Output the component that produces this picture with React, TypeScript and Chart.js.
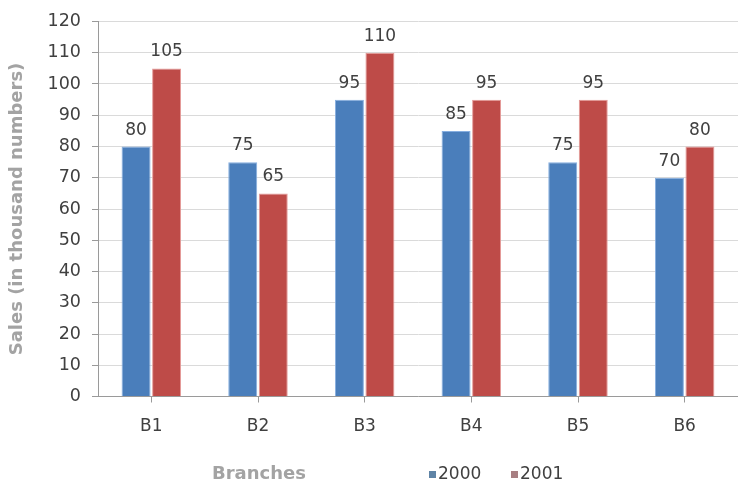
import React, { useEffect, useRef } from "react";
import { Chart, registerables } from "chart.js";

Chart.register(...registerables);

const categories = ["B1", "B2", "B3", "B4", "B5", "B6"];
const sales2000 = [80, 75, 95, 85, 75, 70];
const sales2001 = [105, 65, 110, 95, 95, 80];
const seriesLabels = ["2000", "2001"];
const yTitle = "Sales (in thousand numbers)";
const xTitle = "Branches";

const FONT = "'DejaVu Sans', Verdana, sans-serif";
const legendBoxColors = ["#5f84a6", "#a87f82"];

const valueLabels = {
  id: "valueLabels",
  afterDatasetsDraw(chart: any) {
    const ctx = chart.ctx;
    ctx.save();
    ctx.font = `17px ${FONT}`;
    ctx.fillStyle = "#404040";
    ctx.textAlign = "center";
    ctx.textBaseline = "alphabetic";
    chart.data.datasets.forEach((ds: any, i: number) => {
      const meta = chart.getDatasetMeta(i);
      meta.data.forEach((bar: any, j: number) => {
        ctx.fillText(String(ds.data[j]), bar.x, bar.y - 12);
      });
    });
    ctx.restore();
  },
};

const bottomRow = {
  id: "bottomRow",
  afterDraw(chart: any) {
    const ctx = chart.ctx;
    const yc = 474;
    ctx.save();
    ctx.textBaseline = "middle";
    ctx.textAlign = "left";
    ctx.font = `bold 18px ${FONT}`;
    ctx.fillStyle = "#a3a3a3";
    ctx.fillText(xTitle, 212, yc);
    ctx.font = `17px ${FONT}`;
    const starts = [429, 511];
    chart.data.datasets.forEach((ds: any, i: number) => {
      const x = starts[i];
      ctx.fillStyle = legendBoxColors[i];
      ctx.fillRect(x, yc - 3, 7, 7);
      ctx.fillStyle = "#404040";
      ctx.fillText(ds.label, x + 9, yc + 1);
    });
    ctx.restore();
  },
};

export default function App() {
  const ref = useRef<HTMLCanvasElement | null>(null);

  useEffect(() => {
    if (!ref.current) return;
    const chart = new Chart(ref.current, {
      type: "bar",
      data: {
        labels: categories,
        datasets: [
          {
            label: seriesLabels[0],
            data: sales2000,
            backgroundColor: "#4a7ebb",
            borderColor: "#86aee0",
            borderWidth: 1,
            categoryPercentage: 0.572,
            barPercentage: 0.95,
          },
          {
            label: seriesLabels[1],
            data: sales2001,
            backgroundColor: "#be4b48",
            borderColor: "#e59a98",
            borderWidth: 1,
            categoryPercentage: 0.572,
            barPercentage: 0.95,
          },
        ],
      },
      options: {
        animation: false,
        responsive: true,
        maintainAspectRatio: false,
        layout: { padding: { left: 0, right: 0, top: 16, bottom: 43 } },
        plugins: {
          legend: { display: false },
          tooltip: { enabled: false },
        },
        scales: {
          x: {
            grid: {
              display: true,
              drawOnChartArea: false,
              drawTicks: true,
              tickLength: 6,
              offset: false,
              tickColor: "#9a9a9a",
            },
            border: { display: true, color: "#9a9a9a", width: 1 },
            ticks: {
              color: "#404040",
              font: { family: FONT, size: 17 },
              padding: 14,
            },
            afterFit: (scale: any) => {
              scale.height = 50.5;
            },
          },
          y: {
            min: 0,
            max: 120,
            ticks: {
              stepSize: 10,
              color: "#404040",
              font: { family: FONT, size: 17.5 },
              padding: 11,
            },
            grid: {
              color: "#dadada",
              tickColor: "#9a9a9a",
              tickLength: 6,
            },
            border: { display: true, color: "#9a9a9a", width: 1 },
            title: {
              display: true,
              text: yTitle,
              color: "#a3a3a3",
              font: { family: FONT, size: 18, weight: "bold" },
              padding: { top: 7, bottom: 0 },
            },
            afterFit: (scale: any) => {
              scale.width = 98;
            },
          },
        },
      },
      plugins: [valueLabels, bottomRow],
    });
    return () => chart.destroy();
  }, []);

  return (
    <div
      style={{
        position: "fixed",
        left: 0,
        top: 0,
        width: 738,
        height: 490,
        background: "#fff",
      }}
    >
      <canvas ref={ref} />
    </div>
  );
}
